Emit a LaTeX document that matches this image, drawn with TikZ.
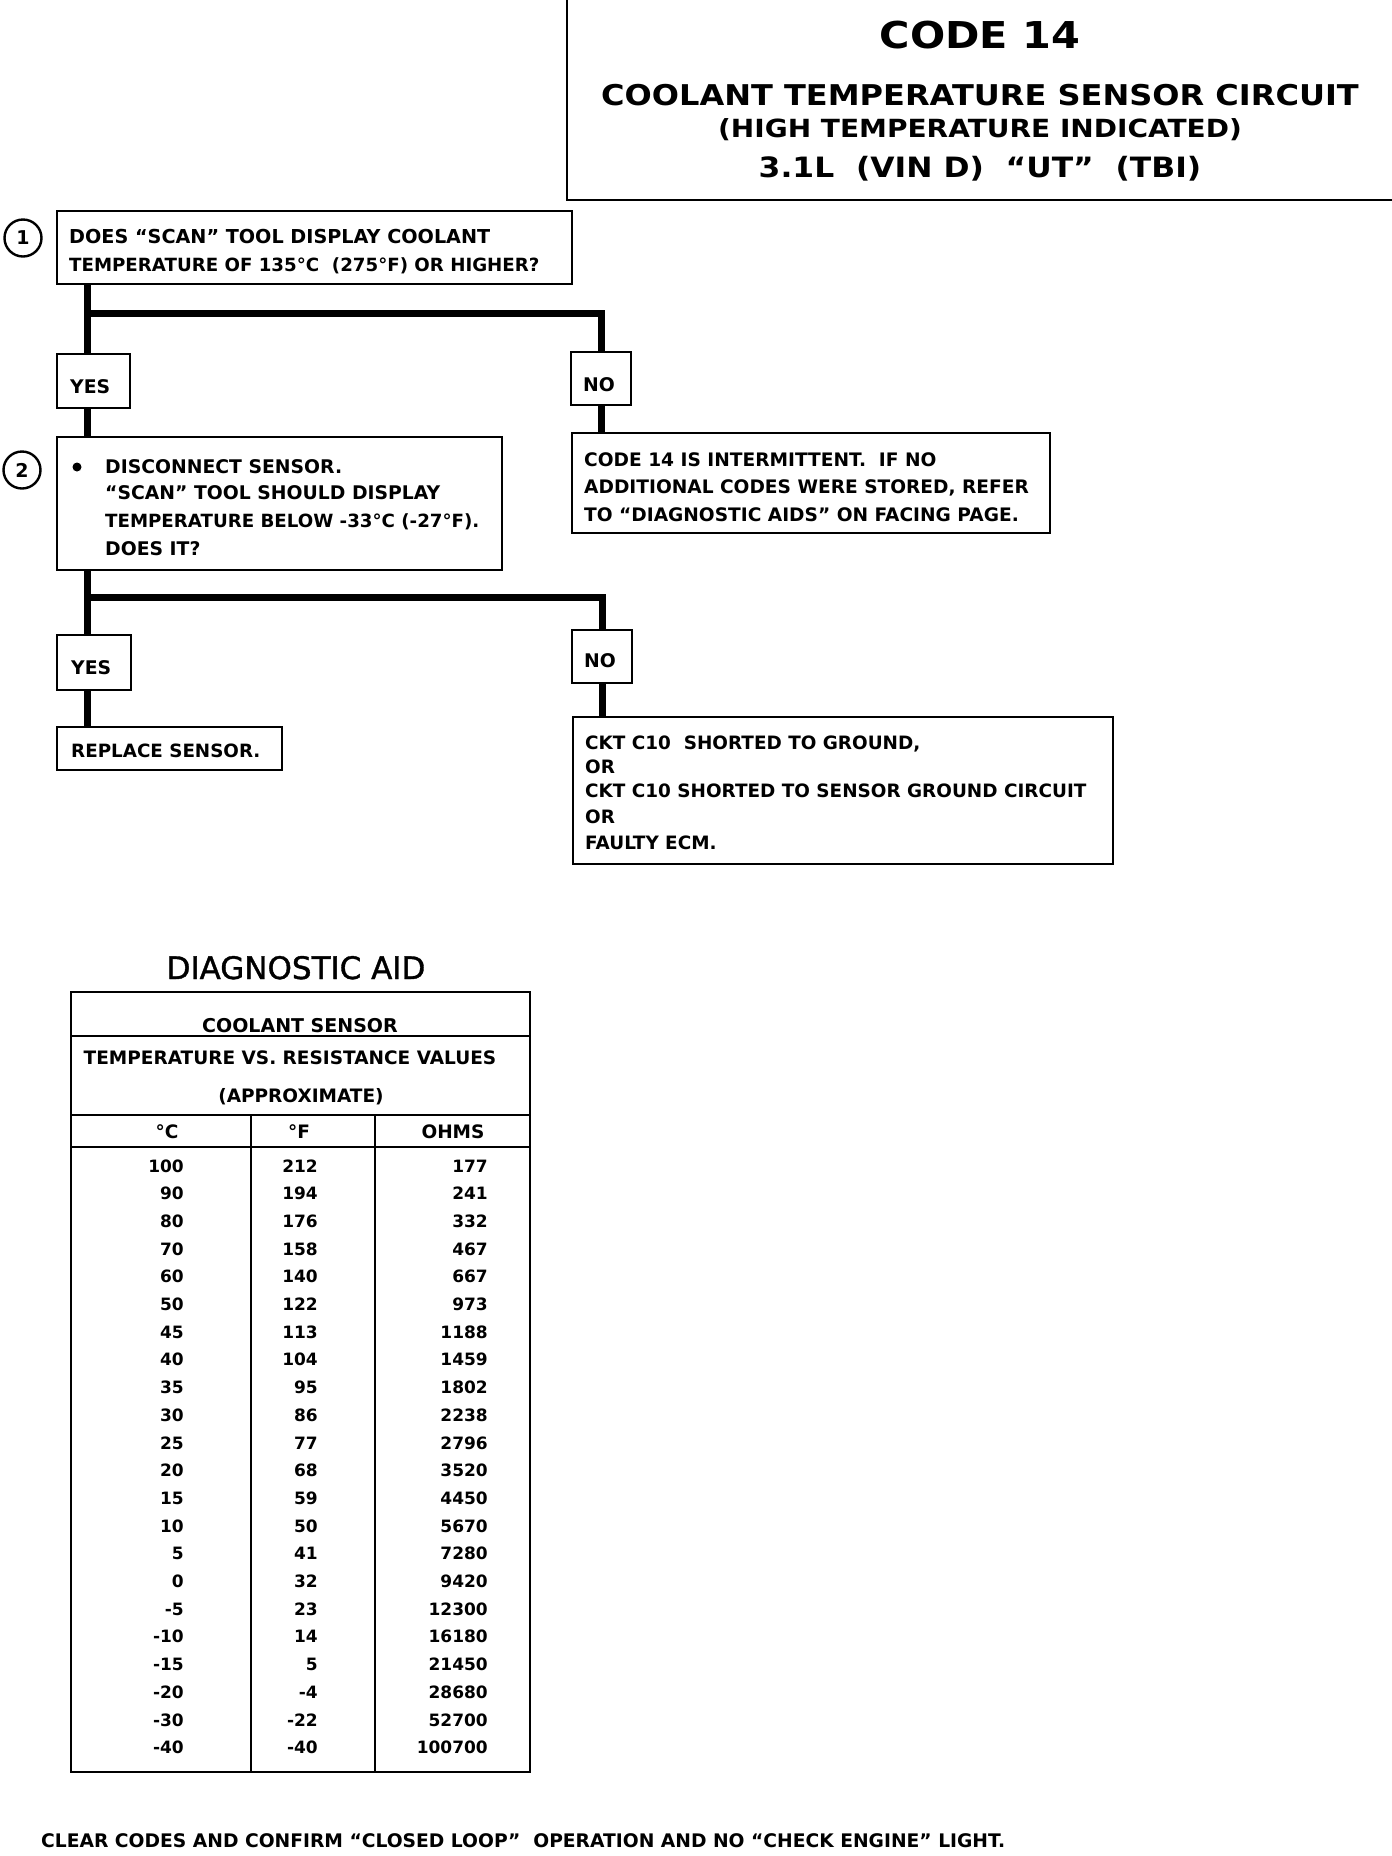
\documentclass[tikz,border=0pt]{standalone}
\usepackage{fontspec}
\setmainfont{DejaVu Sans}
\newfontfamily\titlefont[FakeStretch=1.12]{DejaVu Sans}
\newfontfamily\diagfont[FakeBold=1.2]{DejaVu Sans}
\begin{document}
\begin{tikzpicture}[x=1pt,y=-1pt,
  box/.style={draw, line width=2.8pt, inner sep=0pt, outer sep=0pt, anchor=north west},
  conn/.style={line width=7pt},
  btxt/.style={inner sep=0pt, anchor=base west, font=\bfseries\fontsize{18.8}{22}\selectfont},
  ttl/.style={inner sep=0pt, anchor=base},
  num/.style={inner sep=0pt, anchor=base east, font=\bfseries\fontsize{17}{20}\selectfont},
  thd/.style={inner sep=0pt, anchor=base, font=\bfseries\fontsize{18.5}{22}\selectfont},
  tline/.style={line width=2.8pt},
  stepnum/.style={circle, draw, line width=2.4pt, minimum size=37pt, inner sep=0pt, font=\bfseries\fontsize{19}{22}\selectfont}
]
\fill[white] (0,0) rectangle (1392,1856);
\useasboundingbox (0,0) rectangle (1392,1856);

% ---------- title ----------
\draw[line width=2.6pt] (567,0) -- (567,200) -- (1392,200);
\node[ttl, font=\titlefont\bfseries\fontsize{37}{40}\selectfont] (t1) at (980,48) {CODE 14};
\node[ttl, font=\titlefont\bfseries\fontsize{28.6}{30}\selectfont] (t2) at (980,105) {COOLANT TEMPERATURE SENSOR CIRCUIT};
\node[ttl, font=\titlefont\bfseries\fontsize{25}{27}\selectfont] (t3) at (980,137) {(HIGH TEMPERATURE INDICATED)};
\node[ttl, font=\titlefont\bfseries\fontsize{28}{30}\selectfont] (t4) at (980,177) {3.1L\ \ (VIN D)\ \ “UT”\ \ (TBI)};

% ---------- connectors ----------
\coordinate (j1) at (87,313);
\coordinate (j2) at (87,597);

% ---------- boxes ----------
\node[box, minimum width=515pt, minimum height=73pt] (q1) at (57,211) {};
\node[box, minimum width=73pt, minimum height=54pt] (yes1) at (57,354) {};
\node[box, minimum width=60pt, minimum height=53pt] (no1) at (571,352) {};
\node[box, minimum width=445pt, minimum height=133pt] (q2) at (57,437) {};
\node[box, minimum width=478pt, minimum height=100pt] (r1) at (572,433) {};
\node[box, minimum width=74pt, minimum height=55pt] (yes2) at (57,635) {};
\node[box, minimum width=60pt, minimum height=53pt] (no2) at (572,630) {};
\node[box, minimum width=225pt, minimum height=43pt] (rep) at (57,727) {};
\node[box, minimum width=540pt, minimum height=147pt] (r2) at (573,717) {};

\draw[conn] ([xshift=30pt]q1.south west) -- ([xshift=30pt]yes1.north west);
\draw[conn] (j1) -| (no1.north);
\draw[conn] ([xshift=30pt]yes1.south west) -- ([xshift=30pt]q2.north west);
\draw[conn] (no1.south) -- (no1.south |- r1.north);
\draw[conn] ([xshift=30pt]q2.south west) -- ([xshift=30pt]yes2.north west);
\draw[conn] (j2) -| (no2.north);
\draw[conn] ([xshift=30pt]yes2.south west) -- ([xshift=30pt]rep.north west);
\draw[conn] (no2.south) -- (no2.south |- r2.north);

% step circles
\node[stepnum] (c1) at (23,238) {1};
\node[stepnum] (c2) at (22,470) {2};

% box texts
\node[btxt, font=\bfseries\fontsize{19.2}{22}\selectfont] (q1a) at (69,243) {DOES “SCAN” TOOL DISPLAY COOLANT};
\node[btxt, font=\bfseries\fontsize{18.2}{22}\selectfont] (q1b) at (69,271) {TEMPERATURE OF 135°C\ \ (275°F) OR HIGHER?};

\node[btxt] (yes1t) at (70,393) {YES};
\node[btxt] (no1t) at (583,391) {NO};

\node[circle, fill, inner sep=0pt, minimum size=9pt] (bul) at (77,467) {};
\node[btxt] (q2a) at (105,473) {DISCONNECT SENSOR.};
\node[btxt] (q2b) at (105,499) {“SCAN” TOOL SHOULD DISPLAY};
\node[btxt, font=\bfseries\fontsize{18.2}{22}\selectfont] (q2c) at (105,527) {TEMPERATURE BELOW -33°C (-27°F).};
\node[btxt] (q2d) at (105,555) {DOES IT?};

\node[btxt, font=\bfseries\fontsize{18.6}{22}\selectfont] (r1a) at (584,466) {CODE 14 IS INTERMITTENT.\ \ IF NO};
\node[btxt, font=\bfseries\fontsize{18.6}{22}\selectfont] (r1b) at (584,493) {ADDITIONAL CODES WERE STORED, REFER};
\node[btxt, font=\bfseries\fontsize{18.6}{22}\selectfont] (r1c) at (584,521) {TO “DIAGNOSTIC AIDS” ON FACING PAGE.};

\node[btxt] (yes2t) at (71,674) {YES};
\node[btxt] (no2t) at (584,667) {NO};

\node[btxt, font=\bfseries\fontsize{18.3}{22}\selectfont] (rept) at (71,757) {REPLACE SENSOR.};

\node[btxt, font=\bfseries\fontsize{18.4}{22}\selectfont] (r2a) at (585,749) {CKT C10\ \ SHORTED TO GROUND,};
\node[btxt, font=\bfseries\fontsize{18.4}{22}\selectfont] (r2b) at (585,773) {OR};
\node[btxt, font=\bfseries\fontsize{18.4}{22}\selectfont] (r2c) at (585,797) {CKT C10 SHORTED TO SENSOR GROUND CIRCUIT};
\node[btxt, font=\bfseries\fontsize{18.4}{22}\selectfont] (r2d) at (585,823) {OR};
\node[btxt, font=\bfseries\fontsize{18.4}{22}\selectfont] (r2e) at (585,849) {FAULTY ECM.};

% ---------- diagnostic aid table ----------
\node[ttl, font=\diagfont\fontsize{31}{34}\selectfont] (da) at (296,979) {DIAGNOSTIC AID};

\draw[tline] (71,992) rectangle (530,1772);
\draw[tline] (71,1036) -- (530,1036);
\draw[tline] (71,1115) -- (530,1115);
\draw[tline] (71,1147) -- (530,1147);
\draw[tline] (251,1115) -- (251,1772);
\draw[tline] (375,1115) -- (375,1772);

\node[thd, font=\bfseries\fontsize{19}{22}\selectfont] (h1) at (300,1032) {COOLANT SENSOR};
\node[thd] (h2) at (290,1064) {TEMPERATURE VS. RESISTANCE VALUES};
\node[thd] (h3) at (301,1102) {(APPROXIMATE)};
\node[thd] (hc) at (167,1138) {°C};
\node[thd] (hf) at (299,1138) {°F};
\node[thd] (ho) at (453,1138) {OHMS};

\foreach \c/\f/\o [count=\i from 0] in {100/212/177, 90/194/241, 80/176/332, 70/158/467, 60/140/667, 50/122/973, 45/113/1188, 40/104/1459, 35/95/1802, 30/86/2238, 25/77/2796, 20/68/3520, 15/59/4450, 10/50/5670, 5/41/7280, 0/32/9420, -5/23/12300, -10/14/16180, -15/5/21450, -20/-4/28680, -30/-22/52700, -40/-40/100700}{
  \node[num] (tc\i) at (184,1172+\i*27.7) {\c};
  \node[num] (tf\i) at (318,1172+\i*27.7) {\f};
  \node[num] (to\i) at (488,1172+\i*27.7) {\o};
}

% ---------- footer ----------
\node[btxt, font=\bfseries\fontsize{18.7}{22}\selectfont] (foot) at (41,1847) {CLEAR CODES AND CONFIRM “CLOSED LOOP”\ \ OPERATION AND NO “CHECK ENGINE” LIGHT.};
\end{tikzpicture}
\end{document}
